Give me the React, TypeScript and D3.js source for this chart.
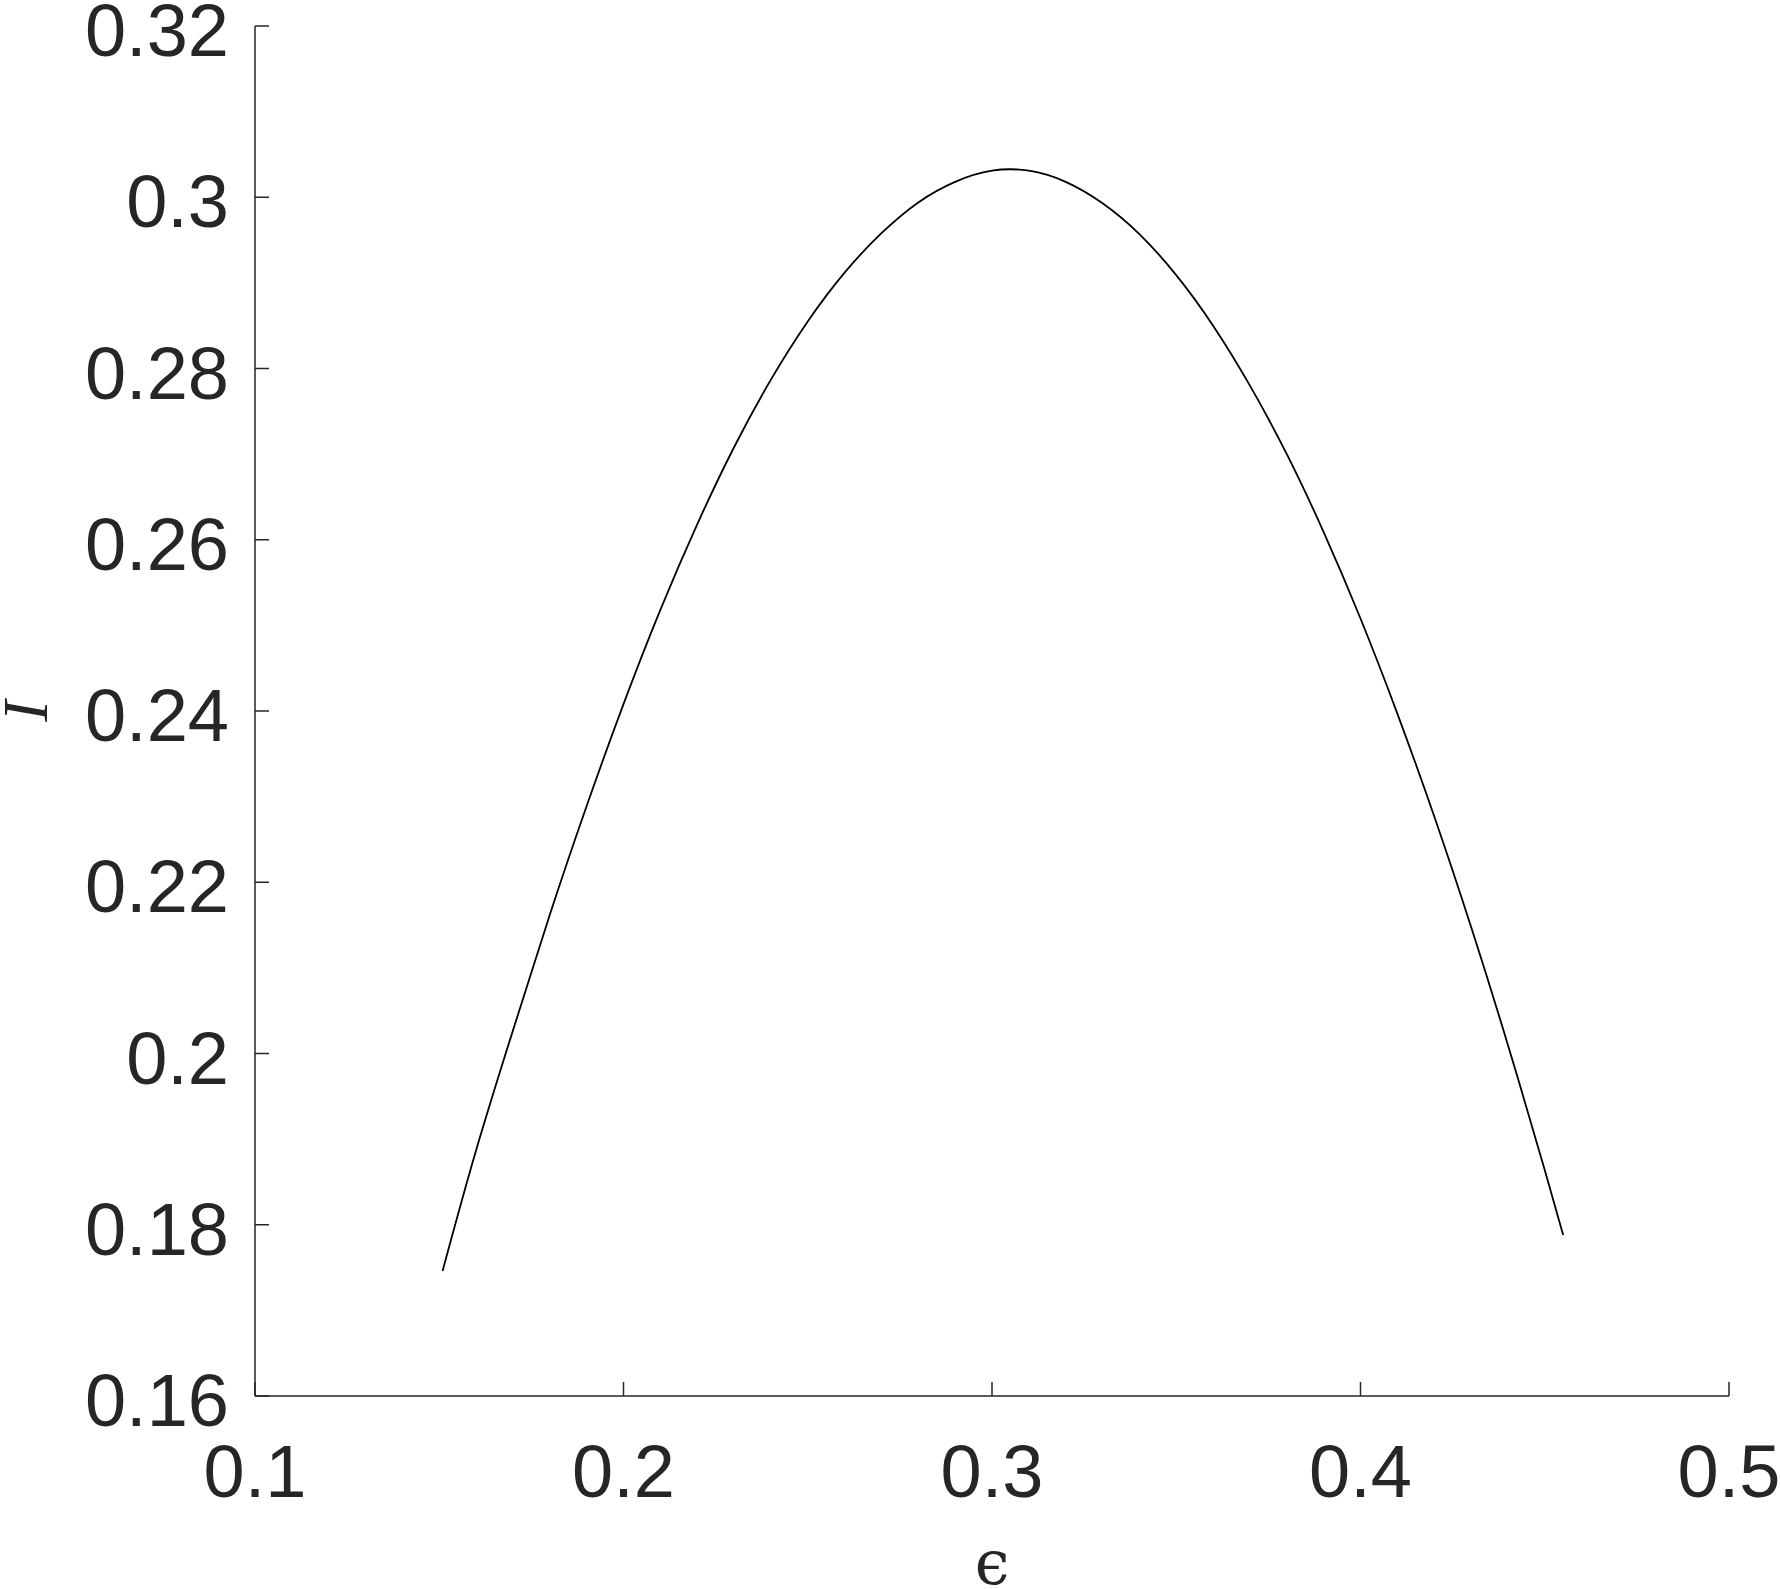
import React from "react";
import * as d3 from "d3";

const epsValues = [
  0.1509, 0.16, 0.17, 0.18, 0.19, 0.2, 0.21, 0.22, 0.23, 0.24, 0.25, 0.26, 0.27, 0.28, 0.29, 0.3,
  0.31, 0.32, 0.33, 0.34, 0.35, 0.36, 0.37, 0.38, 0.39, 0.4, 0.41, 0.42, 0.43, 0.44, 0.45, 0.455,
];
const iValues = [
  0.1746, 0.1887, 0.2027, 0.2162, 0.2289, 0.2408, 0.2518, 0.2618, 0.2708, 0.2787, 0.2855, 0.2912, 0.2958, 0.2994, 0.3018, 0.3031,
  0.3031, 0.3018, 0.2993, 0.2957, 0.2909, 0.285, 0.278, 0.27, 0.2609, 0.2508, 0.2397, 0.2277, 0.2148, 0.201, 0.1864, 0.1788,
];

const xTicks = [0.1, 0.2, 0.3, 0.4, 0.5];
const yTicks = [0.16, 0.18, 0.2, 0.22, 0.24, 0.26, 0.28, 0.3, 0.32];
const xTickLabels = ["0.1", "0.2", "0.3", "0.4", "0.5"];
const yTickLabels = ["0.16", "0.18", "0.2", "0.22", "0.24", "0.26", "0.28", "0.3", "0.32"];

const W = 1780;
const H = 1589;
const L = 255, R = 1729, T = 26, B = 1396;

export default function App() {
  const x = d3.scaleLinear().domain([0.1, 0.5]).range([L, R]);
  const y = d3.scaleLinear().domain([0.16, 0.32]).range([B, T]);
  const pts: [number, number][] = epsValues.map((e, k) => [e, iValues[k]]);
  const line = d3
    .line<[number, number]>()
    .x((d) => x(d[0]))
    .y((d) => y(d[1]))
    .curve(d3.curveNatural);
  const axisColor = "#262626";
  const tickLen = 14;
  const fontTick = "'Liberation Sans', Arial, Helvetica, sans-serif";
  return (
    <svg width={W} height={H} style={{ position: "absolute", left: 0, top: 0, background: "#fff" }}>
      <rect x={0} y={0} width={W} height={H} fill="#fff" />
      <path d={line(pts) || ""} fill="none" stroke="#000" strokeWidth={1.8} />
      <g stroke={axisColor} strokeWidth={1.5} fill="none">
        <line x1={L} y1={T} x2={L} y2={B} />
        <line x1={L} y1={B} x2={R} y2={B} />
        {xTicks.map((t) => (
          <line key={"xt" + t} x1={x(t)} x2={x(t)} y1={B} y2={B - tickLen} />
        ))}
        {yTicks.map((t) => (
          <line key={"yt" + t} x1={L} x2={L + tickLen} y1={y(t)} y2={y(t)} />
        ))}
      </g>
      <g fill={axisColor} fontFamily={fontTick} fontSize={74}>
        {xTicks.map((t, k) => (
          <text key={"xl" + t} x={x(t)} y={B + 101} textAnchor="middle">
            {xTickLabels[k]}
          </text>
        ))}
        {yTicks.map((t, k) => (
          <text key={"yl" + t} x={229} y={y(t) + 30} textAnchor="end">
            {yTickLabels[k]}
          </text>
        ))}
      </g>
      <text
        transform={`translate(47, ${(T + B) / 2}) rotate(-90)`}
        textAnchor="middle"
        fontFamily="'Liberation Serif', 'Times New Roman', serif"
        fontStyle="italic"
        fontSize={64}
        fill={axisColor}
      >
        I
      </text>
      <text
        x={(L + R) / 2}
        y={1584}
        textAnchor="middle"
        fontFamily="'DejaVu Serif', 'Liberation Serif', serif"
        fontSize={62}
        fill={axisColor}
      >
        ϵ
      </text>
    </svg>
  );
}
